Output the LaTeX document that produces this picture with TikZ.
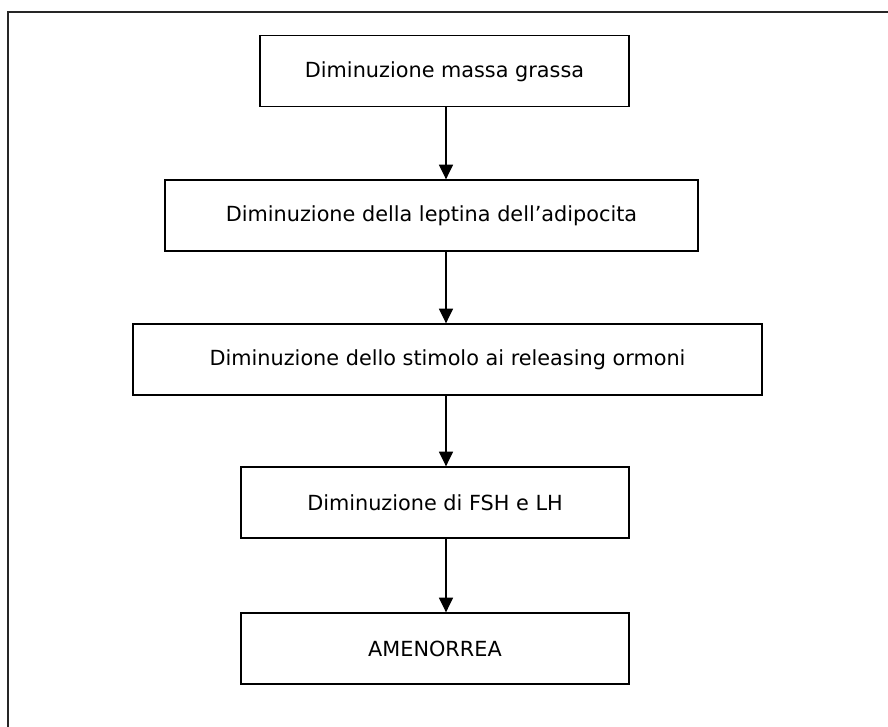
\documentclass[tikz,border=0pt]{standalone}
\usepackage{fontspec}
\setmainfont{DejaVu Sans}
\usetikzlibrary{arrows.meta}
\begin{document}
\begin{tikzpicture}[x=0.75pt,y=-0.75pt,
  stepbox/.style={draw=black, line width=1pt, minimum height=71*0.75pt, inner sep=0pt, font=\fontsize{15.6pt}{18pt}\selectfont},
  arr/.style={line width=1pt, -{Triangle[width=10.5pt,length=11pt]}},
  frameline/.style={draw=black!85, line width=1.4pt}]
\useasboundingbox (0,0) rectangle (888,727);
\draw[frameline] (8,730) -- (8,12) -- (891,12);
\node[stepbox, minimum width=369*0.75pt] (b1) at (444.5,71.3) {Diminuzione massa grassa};
\node[stepbox, minimum width=533*0.75pt] (b2) at (431.5,215.5) {Diminuzione della leptina dell’adipocita};
\node[stepbox, minimum width=629*0.75pt] (b3) at (447.5,359.5) {Diminuzione dello stimolo ai releasing ormoni};
\node[stepbox, minimum width=388*0.75pt] (b4) at (435,502.5) {Diminuzione di FSH e LH};
\node[stepbox, minimum width=388*0.75pt] (b5) at (435,648.5) {AMENORREA};
\coordinate (ax) at (446,0);
\draw[arr] (b1.south -| ax) -- (b2.north -| ax);
\draw[arr] (b2.south -| ax) -- (b3.north -| ax);
\draw[arr] (b3.south -| ax) -- (b4.north -| ax);
\draw[arr] (b4.south -| ax) -- (b5.north -| ax);
\end{tikzpicture}
\end{document}
